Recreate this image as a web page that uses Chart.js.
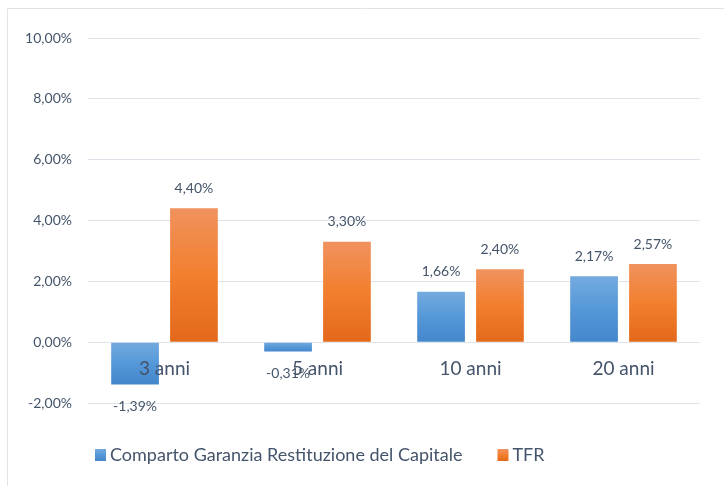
<!DOCTYPE html>
<html>
<head>
<meta charset="utf-8">
<script src="https://cdn.jsdelivr.net/npm/chart.js@4.4.0/dist/chart.umd.min.js"></script>
<style>
  html, body { margin: 0; padding: 0; background: #fff; }
  #wrap { width: 724px; height: 486px; }
</style>
</head>
<body>
<div id="wrap"><canvas id="chart" width="724" height="486"></canvas></div>
<script>
// Chart data
const categories = ['3 anni', '5 anni', '10 anni', '20 anni'];
const comparto = [-1.39, -0.31, 1.66, 2.17];
const tfr = [4.40, 3.30, 2.40, 2.57];
const seriesNames = ['Comparto Garanzia Restituzione del Capitale', 'TFR'];
const yTicks = [-2, 0, 2, 4, 6, 8, 10];

const textColor = '#44546a';
const fontFamily = 'Lato, "Open Sans", sans-serif';
const blueStops = ['#74aadf', '#5598d8', '#4486cb'];
const orangeStops = ['#f0925e', '#f27f2e', '#e3681a'];

function fmt(v) {
    return v.toFixed(2).replace('.', ',') + '%';
}

function makeGradient(c, top, bottom, stops) {
    const g = c.createLinearGradient(0, top, 0, bottom);
    g.addColorStop(0, stops[0]);
    g.addColorStop(0.5, stops[1]);
    g.addColorStop(1, stops[2]);
    return g;
}

// vertical gradient over each bar's own extent
function barGradient(stops) {
    return function(ctx) {
        const chart = ctx.chart;
        if (!chart.chartArea || ctx.type !== 'data') return stops[1];
        const y = chart.scales.y;
        const p0 = y.getPixelForValue(0);
        const p1 = y.getPixelForValue(ctx.raw);
        const top = Math.min(p0, p1), bottom = Math.max(p0, p1);
        if (bottom - top < 1) return stops[1];
        return makeGradient(chart.ctx, top, bottom, stops);
    };
}

// light frame around the chart (top and left edges visible)
const framePlugin = {
    id: 'frame',
    beforeDraw(chart) {
        const c = chart.ctx;
        c.save();
        c.strokeStyle = '#e0e3e8';
        c.lineWidth = 1;
        c.beginPath();
        c.moveTo(7.5, 486);
        c.lineTo(7.5, 8.5);
        c.lineTo(724, 8.5);
        c.stroke();
        c.restore();
    }
};

// value labels above / below bars
const valueLabels = {
    id: 'valueLabels',
    afterDatasetsDraw(chart) {
        const c = chart.ctx;
        c.save();
        c.font = '14px ' + fontFamily;
        c.fillStyle = textColor;
        c.textAlign = 'center';
        c.textBaseline = 'middle';
        chart.data.datasets.forEach(function(ds, i) {
            const meta = chart.getDatasetMeta(i);
            meta.data.forEach(function(bar, j) {
                const v = ds.data[j];
                const y = v >= 0 ? bar.y - 20 : bar.y + 22;
                c.fillText(fmt(v), bar.x, y);
            });
        });
        c.restore();
    }
};

// legend placed like the original (left of centre, below the plot)
const legendPlugin = {
    id: 'bottomLegend',
    afterDraw(chart) {
        const c = chart.ctx;
        const stops = [blueStops, orangeStops];
        const cy = 455;
        let x = 95;
        c.save();
        c.font = '18px ' + fontFamily;
        c.textBaseline = 'middle';
        c.textAlign = 'left';
        seriesNames.forEach(function(name, i) {
            c.fillStyle = makeGradient(c, cy - 6, cy + 6, stops[i]);
            c.fillRect(x, cy - 6, 11, 12);
            c.fillStyle = textColor;
            c.fillText(name, x + 15, cy);
            x += 15 + c.measureText(name).width + 35;
        });
        c.restore();
    }
};

new Chart(document.getElementById('chart'), {
    type: 'bar',
    data: {
        labels: categories,
        datasets: [{
            label: seriesNames[0],
            data: comparto,
            backgroundColor: barGradient(blueStops),
            categoryPercentage: 0.77,
            barPercentage: 0.81
        }, {
            label: seriesNames[1],
            data: tfr,
            backgroundColor: barGradient(orangeStops),
            categoryPercentage: 0.77,
            barPercentage: 0.81
        }]
    },
    options: {
        responsive: false,
        animation: false,
        layout: {
            padding: { top: 38, left: 10, right: 24, bottom: 83 }
        },
        plugins: {
            legend: { display: false },
            tooltip: { enabled: false }
        },
        scales: {
            x: {
                position: { y: 0 },
                grid: { display: false, drawTicks: false },
                border: { display: false },
                ticks: {
                    z: 1,  // category names sit on top of the negative bars
                    color: textColor,
                    padding: 15,
                    font: { family: fontFamily, size: 19 }
                }
            },
            y: {
                min: -2,
                max: 10,
                afterBuildTicks(scale) {
                    scale.ticks = yTicks.map(function(v) { return { value: v }; });
                },
                afterFit(scale) {
                    scale.width = 78;
                },
                grid: { color: '#dfe3ea', lineWidth: 1, drawTicks: false },
                border: { display: false },
                ticks: {
                    color: textColor,
                    padding: 16,
                    font: { family: fontFamily, size: 14 },
                    callback: function(v) { return fmt(v); }
                }
            }
        }
    },
    plugins: [framePlugin, valueLabels, legendPlugin]
});
</script>
</body>
</html>
